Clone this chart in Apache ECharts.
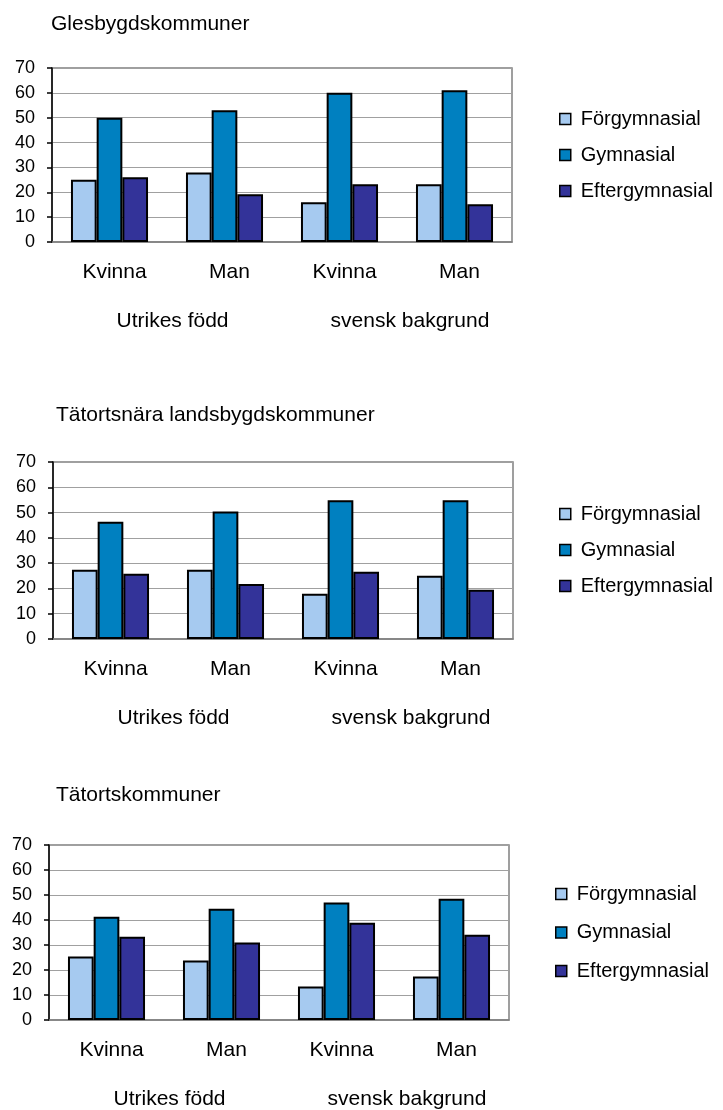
<!DOCTYPE html>
<html>
<head>
<meta charset="utf-8">
<script src="https://cdn.jsdelivr.net/npm/echarts@6/dist/echarts.min.js"></script>
<style>
html,body{margin:0;padding:0;background:#fff;}
#chart{width:723px;height:1110px;}
</style>
</head>
<body>
<div id="chart"></div>
<script>
// ---- data ----
const categories = ['Kvinna', 'Man', 'Kvinna', 'Man'];
const groups = ['Utrikes född', 'svensk bakgrund'];
const seriesNames = ['Förgymnasial', 'Gymnasial', 'Eftergymnasial'];
const chartTitles = ['Glesbygdskommuner', 'Tätortsnära landsbygdskommuner', 'Tätortskommuner'];
const yTicks = [0, 10, 20, 30, 40, 50, 60, 70];

const glesForg = [25, 28, 16, 23.2];
const glesGym = [50, 53, 60, 61];
const glesEfter = [26, 19.2, 23.2, 15.2];

const naraForg = [27.4, 27.4, 17.9, 25];
const naraGym = [46.4, 50.4, 54.9, 54.9];
const naraEfter = [25.8, 21.8, 26.6, 19.5];

const tatForg = [25.4, 23.8, 13.4, 17.4];
const tatGym = [41.3, 44.5, 47, 48.5];
const tatEfter = [33.3, 31, 38.9, 34.1];

const panelData = [
  [glesForg, glesGym, glesEfter],
  [naraForg, naraGym, naraEfter],
  [tatForg, tatGym, tatEfter]
];

// ---- layout / style ----
const colors = ['#A6CAF0', '#0080C0', '#333399'];
const FONT = 'Liberation Sans, Arial, sans-serif';
const panels = [
  {left: 52, right: 211, top: 68, height: 174, titleLeft: 51, titleTop: 14, legendLeft: 559, legendTop: 109, legendGap: 16},
  {left: 53, right: 210, top: 462, height: 177, titleLeft: 56, titleTop: 405, legendLeft: 559, legendTop: 504, legendGap: 16},
  {left: 49, right: 214, top: 845, height: 176, titleLeft: 56, titleTop: 785, legendLeft: 555, legendTop: 884, legendGap: 18.5}
];

const option = {
  animation: false,
  backgroundColor: '#fff',
  title: [], legend: [], grid: [], xAxis: [], yAxis: [], series: []
};

panels.forEach((p, i) => {
  option.title.push({
    text: chartTitles[i], left: p.titleLeft, top: p.titleTop, padding: 0,
    textStyle: {fontFamily: FONT, fontSize: 21, fontWeight: 'normal', color: '#000'}
  });
  option.legend.push({
    orient: 'vertical', left: p.legendLeft, top: p.legendTop, padding: 0,
    itemWidth: 11, itemHeight: 11, itemGap: p.legendGap,
    icon: 'rect', data: seriesNames,
    itemStyle: {borderColor: '#000', borderWidth: 1.5},
    textStyle: {fontFamily: FONT, fontSize: 20, color: '#000', lineHeight: 20, padding: [0, 0, 0, 5]},
    selectedMode: false
  });
  option.grid.push({
    left: p.left, right: p.right, top: p.top, height: p.height,
    show: true, borderColor: '#808080', borderWidth: 1.5, backgroundColor: '#fff'
  });
  option.xAxis.push({
    type: 'category', gridIndex: i, data: categories, position: 'bottom',
    axisLine: {show: true, lineStyle: {color: '#808080', width: 1.5}},
    axisTick: {show: false},
    axisLabel: {interval: 0, fontFamily: FONT, fontSize: 21, color: '#000', margin: 20, padding: [0, 0, 0, 10]},
    splitLine: {show: false}
  });
  option.xAxis.push({
    type: 'category', gridIndex: i, data: groups, position: 'bottom', offset: 61,
    axisLine: {show: false}, axisTick: {show: false},
    axisLabel: {
      interval: 0, hideOverlap: false,
      fontFamily: FONT, fontSize: 21, color: '#000', margin: 8,
      formatter: (v, idx) => idx === 0 ? '{a|' + v + '}' : '{b|' + v + '}',
      rich: {
        a: {fontFamily: FONT, fontSize: 21, color: '#000', padding: [0, 0, 0, 11]},
        b: {fontFamily: FONT, fontSize: 21, color: '#000', padding: [0, 0, 0, 26]}
      }
    },
    splitLine: {show: false}
  });
  option.yAxis.push({
    type: 'value', gridIndex: i, min: yTicks[0], max: yTicks[yTicks.length - 1], interval: 10,
    axisLine: {show: true, lineStyle: {color: '#000', width: 1.5}},
    axisTick: {show: true, length: 5, inside: false, lineStyle: {color: '#000', width: 1.5}},
    axisLabel: {fontFamily: FONT, fontSize: 18, color: '#000', margin: 17},
    splitLine: {show: true, lineStyle: {color: '#A0A0A0', width: 1}}
  });
  panelData[i].forEach((vals, s) => {
    option.series.push({
      name: seriesNames[s], type: 'bar', xAxisIndex: i * 2, yAxisIndex: i,
      data: vals, barGap: '0%', barCategoryGap: '33%',
      itemStyle: {color: colors[s], borderColor: '#000', borderWidth: 2},
      emphasis: {disabled: true}
    });
  });
});

const chart = echarts.init(document.getElementById('chart'), null, {renderer: 'canvas'});
chart.setOption(option);
</script>
</body>
</html>
